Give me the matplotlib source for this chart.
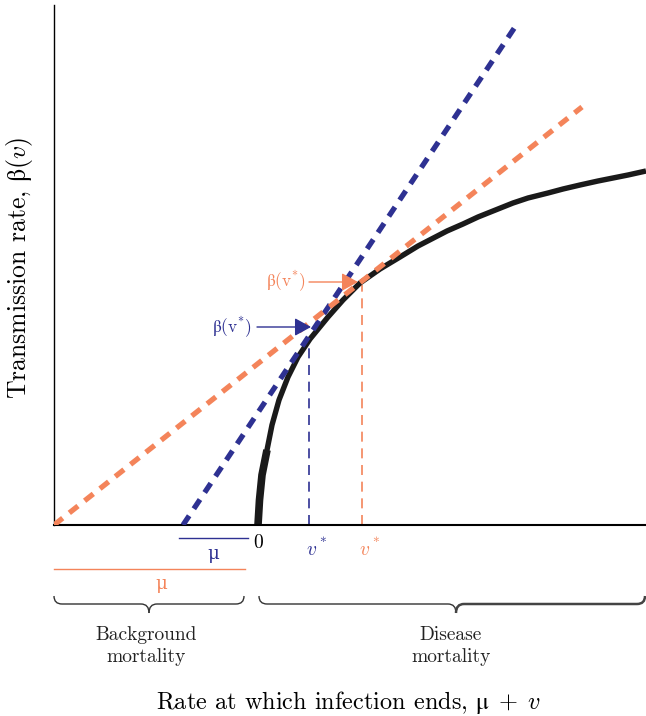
import numpy as np
import matplotlib
matplotlib.use("Agg")
import matplotlib.pyplot as plt
from matplotlib.path import Path
from matplotlib.patches import PathPatch

plt.rcParams['font.family'] = ['cmr10', 'DejaVu Serif']
plt.rcParams['mathtext.fontset'] = 'custom'
plt.rcParams['mathtext.rm'] = 'cmr10'
plt.rcParams['mathtext.it'] = 'cmmi10'
plt.rcParams['mathtext.fallback'] = 'stix'
plt.rcParams['axes.unicode_minus'] = False

# transmission curve beta(v)
curve_x = [0.0, 0.015, 0.04, 0.09, 0.14, 0.21, 0.30, 0.40, 0.52, 0.70, 0.85,
           1.02, 1.22, 1.42, 1.60, 1.89, 2.05, 2.20, 2.35, 2.55, 2.70, 2.90,
           3.05, 3.22, 3.40, 3.55, 3.70, 3.88]
curve_y = [0.0, 0.25, 0.50, 0.75, 1.00, 1.25, 1.48, 1.68, 1.86, 2.08, 2.25,
           2.42, 2.56, 2.68, 2.79, 2.94, 3.01, 3.08, 3.14, 3.22, 3.27, 3.32,
           3.36, 3.40, 3.44, 3.47, 3.50, 3.54]

# tangent lines from -mu (small mu in blue, large mu in orange)
blue_line_x = [-0.75, 2.59]
blue_line_y = [0.0, 5.01]
orange_line_x = [-2.04, 3.24]
orange_line_y = [0.0, 4.18]

# optimal virulence v* and beta(v*)
v_star = [0.51, 1.04]
beta_star = [1.84, 2.40]

BLUE = '#2e3192'
ORANGE = '#f4845a'

fig = plt.figure(figsize=(6.46, 7.16), dpi=100)
ax = fig.add_axes([54 / 646, 191 / 716, 592 / 646, 520 / 716])
ax.set_xlim(-2.04, 3.88)
ax.set_ylim(0, 5.2)

# tangents
ax.plot(blue_line_x, blue_line_y, color=BLUE, lw=3.8, dashes=(2.1, 1.6),
        dash_capstyle='butt', zorder=3)
ax.plot(orange_line_x, orange_line_y, color=ORANGE, lw=3.8, dashes=(2.1, 1.6),
        dash_capstyle='butt', zorder=3)

# curve
ax.plot(curve_x, curve_y, color='#1a1a1a', lw=3.9, solid_joinstyle='round',
        solid_capstyle='butt', zorder=2)
ax.plot(curve_x[:4], curve_y[:4], color='#1a1a1a', lw=5.5,
        solid_capstyle='butt', zorder=2)

# v* drop lines
for vs, bs, c in zip(v_star, beta_star, [BLUE, ORANGE]):
    ax.plot([vs, vs], [0, bs], color=c, lw=1.2, dashes=(6, 4), zorder=1)

# beta(v*) arrows
arrow = '-|>,head_length=1.0,head_width=0.55'
ax.annotate('', xy=(0.53, 1.98), xytext=(-0.01, 1.98),
            arrowprops=dict(arrowstyle=arrow, mutation_scale=10, color=BLUE,
                            lw=1, shrinkA=0, shrinkB=0), zorder=4)
ax.text(-0.06, 1.98, r'$\mathrm{\beta(v}^{*}\mathrm{)}$', color=BLUE,
        fontsize=12.5, ha='right', va='center')
ax.annotate('', xy=(1.0, 2.43), xytext=(0.51, 2.43),
            arrowprops=dict(arrowstyle=arrow, mutation_scale=10, color=ORANGE,
                            lw=1, shrinkA=0, shrinkB=0), zorder=4)
ax.text(0.48, 2.44, r'$\mathrm{\beta(v}^{*}\mathrm{)}$', color=ORANGE,
        fontsize=12.5, ha='right', va='center')

for s in ['top', 'right']:
    ax.spines[s].set_visible(False)
ax.spines['left'].set_linewidth(1.0)
ax.spines['bottom'].set_linewidth(1.5)
ax.set_xticks([])
ax.set_yticks([])

# labels under the axis
ax.text(0.0, -0.18, '0', fontsize=14, ha='center', va='center', clip_on=False)
ax.text(v_star[0] + 0.07, -0.23, r'$v^*$', color=BLUE, fontsize=14,
        ha='center', va='center', clip_on=False)
ax.text(v_star[1] + 0.07, -0.23, r'$v^*$', color=ORANGE, fontsize=14,
        ha='center', va='center', clip_on=False)
ax.plot([-0.79, -0.10], [-0.13, -0.13], color=BLUE, lw=1.0, clip_on=False)
ax.text(-0.45, -0.30, 'μ', color=BLUE, fontsize=13, ha='center', va='center',
        clip_on=False)
ax.plot([-2.04, -0.13], [-0.44, -0.44], color=ORANGE, lw=1.0, clip_on=False)
ax.text(-0.97, -0.60, 'μ', color=ORANGE, fontsize=13, ha='center',
        va='center', clip_on=False)


def half_brace(x0, xtip, ytop, ymid, ytip, r, **kw):
    d = np.sign(xtip - x0)
    verts = [(x0, ytop), (x0, ymid), (x0 + d * r, ymid),
             (xtip - d * r, ymid), (xtip, ymid), (xtip, ytip)]
    codes = [Path.MOVETO, Path.CURVE3, Path.CURVE3,
             Path.LINETO, Path.CURVE3, Path.CURVE3]
    ax.add_patch(PathPatch(Path(verts, codes), fill=False, clip_on=False, **kw))


half_brace(-2.04, -1.09, -0.71, -0.79, -0.88, 0.08, lw=1.0, color='#333333')
half_brace(-0.14, -1.09, -0.71, -0.79, -0.88, 0.08, lw=1.0, color='#333333')
half_brace(0.01, 1.98, -0.71, -0.79, -0.88, 0.08, lw=1.0, color='#333333')
half_brace(3.87, 1.98, -0.71, -0.79, -0.88, 0.08, lw=1.8, color='#444444')

ax.text(-1.12, -1.21, 'Background\nmortality', fontsize=14, ha='center',
        va='center', linespacing=1.25, color='#222222', clip_on=False)
ax.text(1.93, -1.21, 'Disease\nmortality', fontsize=14, ha='center',
        va='center', linespacing=1.25, color='#222222', clip_on=False)

fig.text(348 / 646, 1 - 702 / 716,
         r'Rate at which infection ends, $\mathrm{\mu}\;+\;v$',
         fontsize=17.5, ha='center', va='center')
fig.text(20 / 646, 1 - 268 / 716,
         r'Transmission rate, $\mathrm{\beta}(v)$',
         fontsize=18.5, ha='center', va='center', rotation=90)

fig.savefig('out.png', dpi=100)
